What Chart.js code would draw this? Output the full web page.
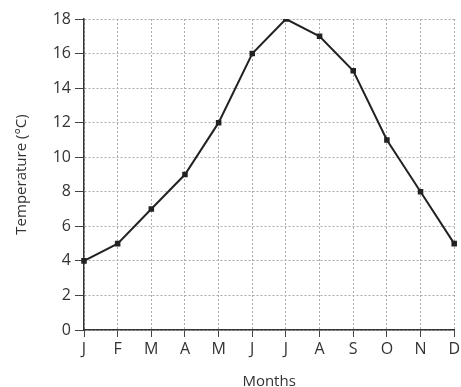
<!DOCTYPE html>
<html>
<head>
<meta charset="utf-8">
<script src="https://cdn.jsdelivr.net/npm/chart.js@4/dist/chart.umd.min.js"></script>
<style>
  html, body { margin: 0; padding: 0; background: #fff; overflow: hidden; }
  #wrap { position: absolute; left: 0; top: 0; width: 463px; height: 392px; }
</style>
</head>
<body>
<div id="wrap"><canvas id="grafico" width="463" height="392"></canvas></div>
<script>
// dados
const meses = ['J', 'F', 'M', 'A', 'M', 'J', 'J', 'A', 'S', 'O', 'N', 'D']
const temperaturas = [4, 5, 7, 9, 12, 16, 18, 17, 15, 11, 8, 5]
const yMin = 0
const yMax = 18
const yPasso = 2

const fonte = { family: 'Open Sans', size: 16 }
const corTexto = '#333'
const corGrade = '#ababab'

const ctx = document.getElementById('grafico')
const chart = new Chart(ctx, {
  type: 'line',
  data: {
    labels: meses,
    datasets: [{
      data: temperaturas,
      borderColor: '#222',
      backgroundColor: '#222',
      borderWidth: 2,
      pointRadius: 2.5,
      pointStyle: 'rect',
      tension: 0,
      fill: false
    }]
  },
  options: {
    responsive: false,
    animation: false,
    layout: { padding: { top: 19, right: 0, bottom: 0, left: 0 } },
    plugins: { legend: { display: false }, tooltip: { enabled: false } },
    scales: {
      x: {
        offset: false,
        // grade pontilhada, tracinhos sólidos
        grid: { color: corGrade, lineWidth: 1, tickLength: 7, tickColor: '#444', tickBorderDash: [] },
        border: { color: '#333', width: 1.5, dash: [2, 2] },
        ticks: { color: corTexto, font: fonte, padding: 3, maxRotation: 0, autoSkip: false },
        title: { display: true, text: 'Months', color: corTexto, font: { family: 'Open Sans', size: 15 }, padding: { top: 0, bottom: 1 } },
        afterFit: function (escala) { escala.height = 62 }
      },
      y: {
        min: yMin,
        max: yMax,
        grid: { color: corGrade, lineWidth: 1, tickLength: 9, tickColor: '#444', tickBorderDash: [] },
        border: { color: '#333', width: 1.5, dash: [2, 2] },
        ticks: { stepSize: yPasso, color: corTexto, font: fonte, padding: 4 },
        title: { display: true, text: 'Temperature (°C)', color: corTexto, font: { family: 'Open Sans', size: 15 }, padding: { top: 13, bottom: 0 } },
        afterFit: function (escala) { escala.width = 84 }
      }
    }
  }
})
</script>
</body>
</html>
